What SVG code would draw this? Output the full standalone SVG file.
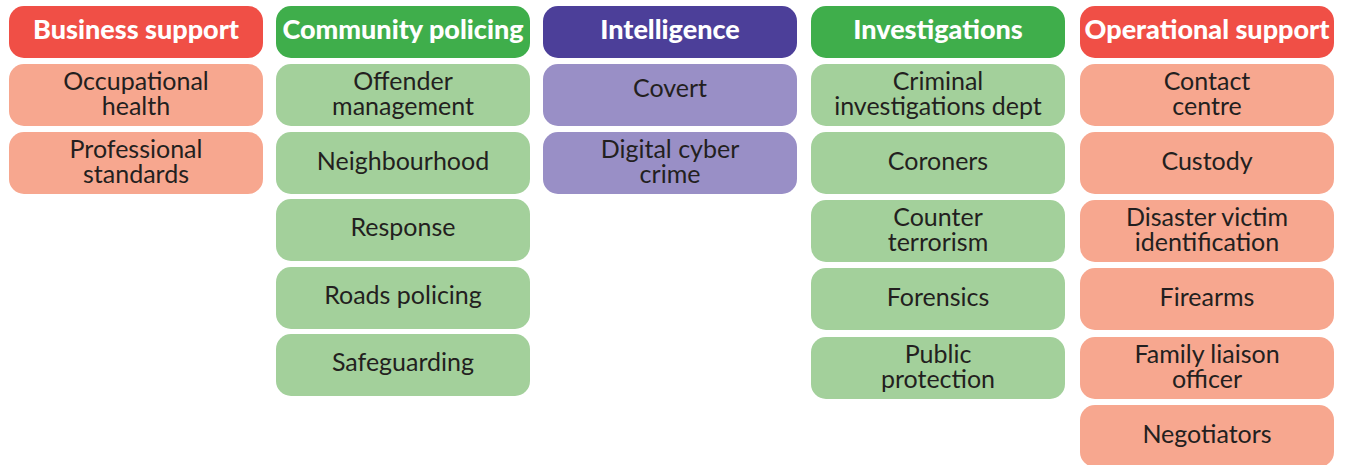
<svg xmlns="http://www.w3.org/2000/svg" width="1346" height="465" viewBox="0 0 1346 465">
  <style>
    .hd { rx: 15px; ry: 15px; }
    .it { rx: 15px; ry: 15px; }
    .red { fill: #f04f46; }
    .pink { fill: #f7a78f; }
    .grn { fill: #3fae4b; }
    .lgrn { fill: #a3d09b; }
    .pur { fill: #4c3f99; }
    .lpur { fill: #998fc6; }
    .ht { font-family: Lato, "Liberation Sans", sans-serif; font-weight: 900; font-size: 27px; fill: #ffffff; text-anchor: middle; }
    .tx { font-family: Lato, "Liberation Sans", sans-serif; font-weight: 400; font-size: 25px; fill: #231f20; text-anchor: middle; }
  </style>

  <!-- Business support -->
  <g id="business-support">
    <rect class="hd red" x="9" y="6" width="254" height="52"/>
    <text class="ht" x="136" y="39">Business support</text>
  </g>
  <g id="occupational-health">
    <rect class="it pink" x="9" y="64" width="254" height="62"/>
    <text class="tx" x="136" y="90">Occupational</text>
    <text class="tx" x="136" y="115">health</text>
  </g>
  <g id="professional-standards">
    <rect class="it pink" x="9" y="132" width="254" height="62"/>
    <text class="tx" x="136" y="158">Professional</text>
    <text class="tx" x="136" y="183">standards</text>
  </g>

  <!-- Community policing -->
  <g id="community-policing">
    <rect class="hd grn" x="276" y="6" width="254" height="52"/>
    <text class="ht" x="403" y="39">Community policing</text>
  </g>
  <g id="offender-management">
    <rect class="it lgrn" x="276" y="64" width="254" height="62"/>
    <text class="tx" x="403" y="90">Offender</text>
    <text class="tx" x="403" y="115">management</text>
  </g>
  <g id="neighbourhood">
    <rect class="it lgrn" x="276" y="132" width="254" height="62"/>
    <text class="tx" x="403" y="170">Neighbourhood</text>
  </g>
  <g id="response">
    <rect class="it lgrn" x="276" y="199" width="254" height="62"/>
    <text class="tx" x="403" y="236">Response</text>
  </g>
  <g id="roads-policing">
    <rect class="it lgrn" x="276" y="267" width="254" height="62"/>
    <text class="tx" x="403" y="304">Roads policing</text>
  </g>
  <g id="safeguarding">
    <rect class="it lgrn" x="276" y="334" width="254" height="62"/>
    <text class="tx" x="403" y="371">Safeguarding</text>
  </g>

  <!-- Intelligence -->
  <g id="intelligence">
    <rect class="hd pur" x="543" y="6" width="254" height="52"/>
    <text class="ht" x="670" y="39">Intelligence</text>
  </g>
  <g id="covert">
    <rect class="it lpur" x="543" y="64" width="254" height="62"/>
    <text class="tx" x="670" y="97">Covert</text>
  </g>
  <g id="digital-cyber-crime">
    <rect class="it lpur" x="543" y="132" width="254" height="62"/>
    <text class="tx" x="670" y="158">Digital cyber</text>
    <text class="tx" x="670" y="183">crime</text>
  </g>

  <!-- Investigations -->
  <g id="investigations">
    <rect class="hd grn" x="811" y="6" width="254" height="52"/>
    <text class="ht" x="938" y="39">Investigations</text>
  </g>
  <g id="criminal-investigations-dept">
    <rect class="it lgrn" x="811" y="64" width="254" height="62"/>
    <text class="tx" x="938" y="90">Criminal</text>
    <text class="tx" x="938" y="115">investigations dept</text>
  </g>
  <g id="coroners">
    <rect class="it lgrn" x="811" y="132" width="254" height="62"/>
    <text class="tx" x="938" y="170">Coroners</text>
  </g>
  <g id="counter-terrorism">
    <rect class="it lgrn" x="811" y="200" width="254" height="62"/>
    <text class="tx" x="938" y="226">Counter</text>
    <text class="tx" x="938" y="251">terrorism</text>
  </g>
  <g id="forensics">
    <rect class="it lgrn" x="811" y="268" width="254" height="62"/>
    <text class="tx" x="938" y="306">Forensics</text>
  </g>
  <g id="public-protection">
    <rect class="it lgrn" x="811" y="337" width="254" height="62"/>
    <text class="tx" x="938" y="363">Public</text>
    <text class="tx" x="938" y="388">protection</text>
  </g>

  <!-- Operational support -->
  <g id="operational-support">
    <rect class="hd red" x="1080" y="6" width="254" height="52"/>
    <text class="ht" x="1207" y="39">Operational support</text>
  </g>
  <g id="contact-centre">
    <rect class="it pink" x="1080" y="64" width="254" height="62"/>
    <text class="tx" x="1207" y="90">Contact</text>
    <text class="tx" x="1207" y="115">centre</text>
  </g>
  <g id="custody">
    <rect class="it pink" x="1080" y="132" width="254" height="62"/>
    <text class="tx" x="1207" y="170">Custody</text>
  </g>
  <g id="disaster-victim-identification">
    <rect class="it pink" x="1080" y="200" width="254" height="62"/>
    <text class="tx" x="1207" y="226">Disaster victim</text>
    <text class="tx" x="1207" y="251">identification</text>
  </g>
  <g id="firearms">
    <rect class="it pink" x="1080" y="268" width="254" height="62"/>
    <text class="tx" x="1207" y="306">Firearms</text>
  </g>
  <g id="family-liaison-officer">
    <rect class="it pink" x="1080" y="337" width="254" height="62"/>
    <text class="tx" x="1207" y="363">Family liaison</text>
    <text class="tx" x="1207" y="388">officer</text>
  </g>
  <g id="negotiators">
    <rect class="it pink" x="1080" y="405" width="254" height="62"/>
    <text class="tx" x="1207" y="443">Negotiators</text>
  </g>

  <!-- no connectors in this chart -->
  <g id="connectors"/>
</svg>
